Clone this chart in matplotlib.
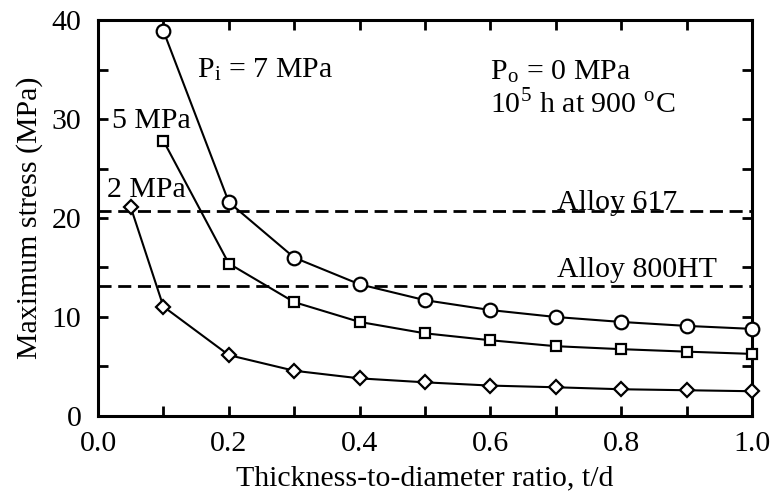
import numpy as np
import matplotlib.pyplot as plt
from matplotlib.ticker import MultipleLocator

plt.rcParams['font.family'] = 'Liberation Serif'
plt.rcParams['mathtext.fontset'] = 'stix'
plt.rcParams['font.size'] = 21.5

# data
t = np.array([0.1, 0.2, 0.3, 0.4, 0.5, 0.6, 0.7, 0.8, 0.9, 1.0])
s7 = np.array([38.9, 21.6, 16.0, 13.3, 11.7, 10.7, 10.0, 9.5, 9.1, 8.8])
s5 = np.array([27.8, 15.4, 11.5, 9.5, 8.35, 7.65, 7.05, 6.75, 6.5, 6.27])
t2 = np.array([0.05, 0.1, 0.2, 0.3, 0.4, 0.5, 0.6, 0.7, 0.8, 0.9, 1.0])
s2 = np.array([21.1, 11.05, 6.15, 4.57, 3.8, 3.4, 3.07, 2.9, 2.7, 2.6, 2.5])
alloy617 = 20.7
alloy800 = 13.15

fig = plt.figure(figsize=(7.73, 4.98), dpi=100)
ax = fig.add_axes([0.1268, 0.1647, 0.846, 0.7951])

kw = dict(color='k', lw=1.5, mfc='white', mec='k', mew=1.6, clip_on=False, zorder=3)
ax.plot(t, s7, marker='o', ms=9.8, **kw)
ax.plot(t, s5, marker='s', ms=7.5, **kw)
ax.plot(t2, s2, marker='D', ms=7, **kw)

ax.axhline(alloy617, color='k', lw=2, dashes=(4.7, 2.4))
ax.axhline(alloy800, color='k', lw=2, dashes=(4.7, 2.4))

ax.text(0.702, 20.85, 'Alloy 617', ha='left', va='baseline')
ax.text(0.702, 14.05, 'Alloy 800HT', ha='left', va='baseline')
ax.text(0.151, 34.2, r'P$_\mathregular{i}$ = 7 MPa', ha='left', va='baseline')
ax.text(0.021, 29.1, '5 MPa', ha='left', va='baseline')
ax.text(0.014, 22.1, '2 MPa', ha='left', va='baseline')
ax.text(0.599, 34.0, r'P$_\mathregular{o}$ = 0 MPa', ha='left', va='baseline')
ax.text(0.599, 30.6, r'10$^\mathregular{5}$ h at 900 $^\mathregular{o}$C', ha='left', va='baseline')

ax.set_xlim(0, 1)
ax.set_ylim(0, 40)
ax.xaxis.set_major_locator(MultipleLocator(0.2))
ax.xaxis.set_minor_locator(MultipleLocator(0.1))
ax.yaxis.set_major_locator(MultipleLocator(10))
ax.yaxis.set_minor_locator(MultipleLocator(5))
ax.xaxis.set_major_formatter(plt.FuncFormatter(lambda v, p: '%.1f' % v))
ax.tick_params(which='both', direction='in', top=True, right=True, length=7, width=2, labelsize=21.5)
ax.tick_params(axis='x', pad=11)
ax.tick_params(axis='y', pad=12)
for sp in ax.spines.values():
    sp.set_linewidth(2.2)

ax.set_xlabel('Thickness-to-diameter ratio, t/d', labelpad=6)
ax.set_ylabel('Maximum stress (MPa)', labelpad=6)

fig.savefig('out.png', dpi=100)
